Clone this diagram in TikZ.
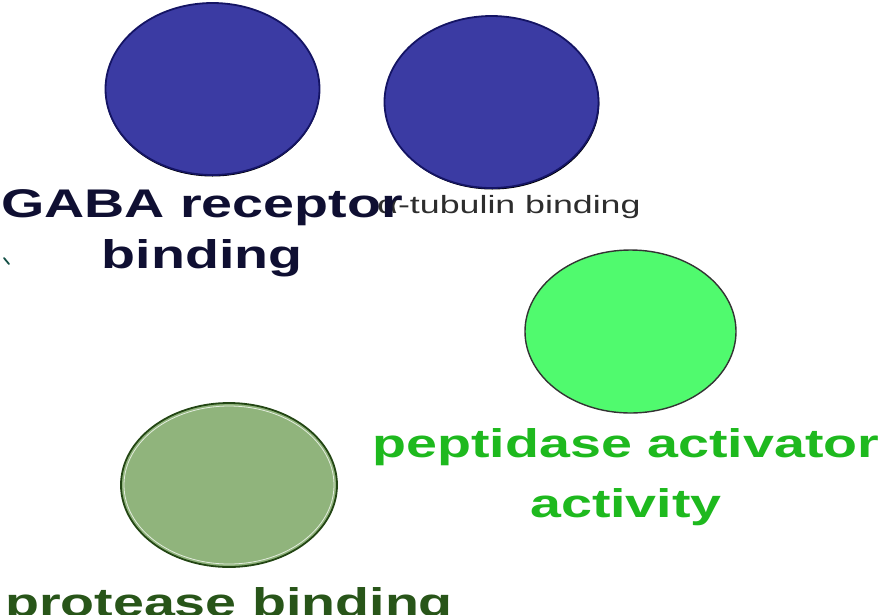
\documentclass[tikz,border=0pt]{standalone}
\usepackage{fontspec}
\setmainfont{Liberation Sans}
\usetikzlibrary{shapes.geometric}
\definecolor{bluefill}{RGB}{59,59,163}
\definecolor{blueedge}{RGB}{20,20,100}
\definecolor{greenfill}{RGB}{80,250,110}
\definecolor{olivefill}{RGB}{144,180,124}
\definecolor{oliveedge}{RGB}{35,70,20}
\definecolor{navytext}{RGB}{15,15,50}
\definecolor{graytext}{RGB}{45,45,45}
\definecolor{greentext}{RGB}{30,185,30}
\definecolor{olivetext}{RGB}{40,85,25}
\definecolor{markcol}{RGB}{20,80,70}
\newcommand{\widetxt}[1]{\scalebox{1.39}[1]{#1}}
\begin{document}
\begin{tikzpicture}[x=1pt,y=-1pt,
  blob/.style={ellipse,inner sep=0pt,minimum width=214pt,minimum height=172pt},
  blueblob/.style={blob,fill=bluefill,draw=blueedge,line width=1.8pt},
  bigtext/.style={anchor=base,inner sep=0pt,font=\bfseries\fontsize{40}{51}\selectfont,align=center},
  smalltext/.style={anchor=base,inner sep=0pt,font=\fontsize{25}{30}\selectfont,text=graytext}]
\useasboundingbox (0,0) rectangle (894,614);
% blue ellipses with faint dark shadow
\node[blob,fill=black,yshift=-1.5pt] at (212.5,89) {};
\node[blueblob] (gaba) at (212.5,89) {};
\node[blob,fill=black,yshift=-1.5pt,xshift=0.8pt] at (491.5,102) {};
\node[blueblob] (tub) at (491.5,102) {};
% green ellipse
\node[blob,minimum width=211pt,minimum height=163pt,fill=greenfill,draw=black!80,line width=1.4pt] (pep) at (630.5,331.5) {};
% olive ellipse
\node[blob,minimum width=216pt,minimum height=164pt,fill=olivefill,draw=oliveedge,line width=1.8pt] (prot) at (229,485) {};
\draw[white!75!olivefill,line width=0.8pt] (229,485) ellipse (105pt and 79pt);
% labels
\node[smalltext] (tubl) at (509,213) {\scalebox{1.43}[1]{α-tubulin binding}};
\node[bigtext,text=navytext] (gabal) at (202,268) {\widetxt{GABA receptor}\\\widetxt{binding}};
\node[bigtext,text=greentext,font=\bfseries\fontsize{40}{60}\selectfont] (pepl) at (626,517) {\widetxt{peptidase activator}\\\widetxt{activity}};
\node[bigtext,text=olivetext] (protl) at (229,616) {\widetxt{protease binding}};
% small stray mark
\draw[markcol,line width=1.8pt,line cap=round] (4,258) -- (9,264);
\end{tikzpicture}
\end{document}
